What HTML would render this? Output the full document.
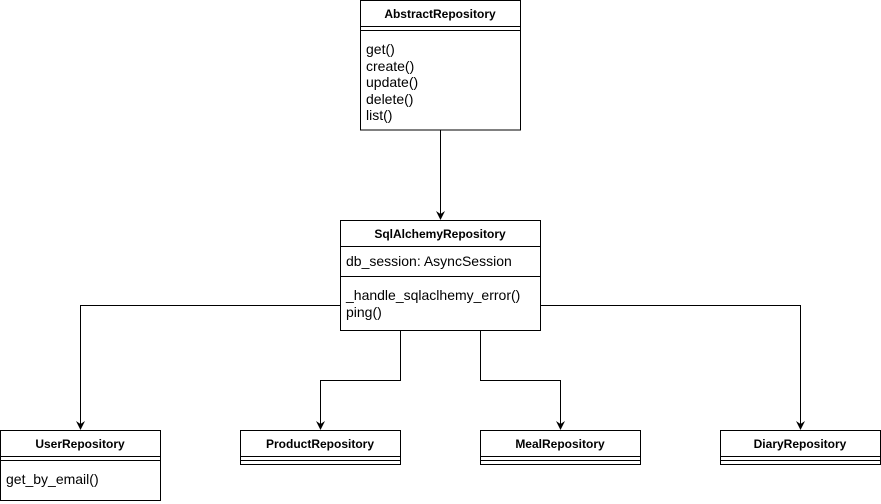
<!DOCTYPE html>
<html><head><style>body{margin:0;background:#fff}svg{display:block}</style></head><body>
<svg width="881" height="504" xmlns="http://www.w3.org/2000/svg" font-family="Liberation Sans, Arial, sans-serif" font-size="14">
<g fill="none" stroke="#000" stroke-width="1">
<path d="M440.5 130V218"/>
<path d="M340 305.5H80.5V428"/>
<path d="M540 305.5H800.5V428"/>
<path d="M400.5 330V380.5H320.5V428"/>
<path d="M480.5 330V380.5H560.5V428"/>
</g>
<g fill="#000">
<path d="M436 211L440.5 220L445 211L440.5 214Z"/>
<path d="M76 421L80.5 430L85 421L80.5 424Z"/>
<path d="M316 421L320.5 430L325 421L320.5 424Z"/>
<path d="M556 421L560.5 430L565 421L560.5 424Z"/>
<path d="M796 421L800.5 430L805 421L800.5 424Z"/>
</g>
<g fill="#fff" stroke="#000" stroke-width="1">
<rect x="360.5" y="0.5" width="160" height="129.5"/>
<path d="M360.5 26.5H520.5M360.5 30.5H520.5"/>
<rect x="340.5" y="220.5" width="200" height="110"/>
<path d="M340.5 246.5H540.5M340.5 276.5H540.5"/>
<rect x="0.5" y="430.5" width="160" height="70"/>
<path d="M0.5 456.5H160.5M0.5 460.5H160.5"/>
<rect x="240.5" y="430.5" width="160" height="34"/>
<path d="M240.5 456.5H400.5M240.5 460.5H400.5"/>
<rect x="480.5" y="430.5" width="160" height="34"/>
<path d="M480.5 456.5H640.5M480.5 460.5H640.5"/>
<rect x="720.5" y="430.5" width="160" height="34"/>
<path d="M720.5 456.5H880.5M720.5 460.5H880.5"/>
</g>
<g font-weight="bold" font-size="12" text-anchor="middle">
<text x="440" y="18">AbstractRepository</text>
<text x="440" y="238">SqlAlchemyRepository</text>
<text x="80" y="448">UserRepository</text>
<text x="320" y="448">ProductRepository</text>
<text x="560" y="448">MealRepository</text>
<text x="800" y="448">DiaryRepository</text>
</g>
<g>
<text x="366" y="54">get()</text>
<text x="366" y="71">create()</text>
<text x="366" y="87">update()</text>
<text x="366" y="104">delete()</text>
<text x="366" y="120">list()</text>
<text x="346" y="266">db_session: AsyncSession</text>
<text x="346" y="300">_handle_sqlaclhemy_error()</text>
<text x="346" y="317">ping()</text>
<text x="6" y="484">get_by_email()</text>
</g>
</svg>
</body></html>
